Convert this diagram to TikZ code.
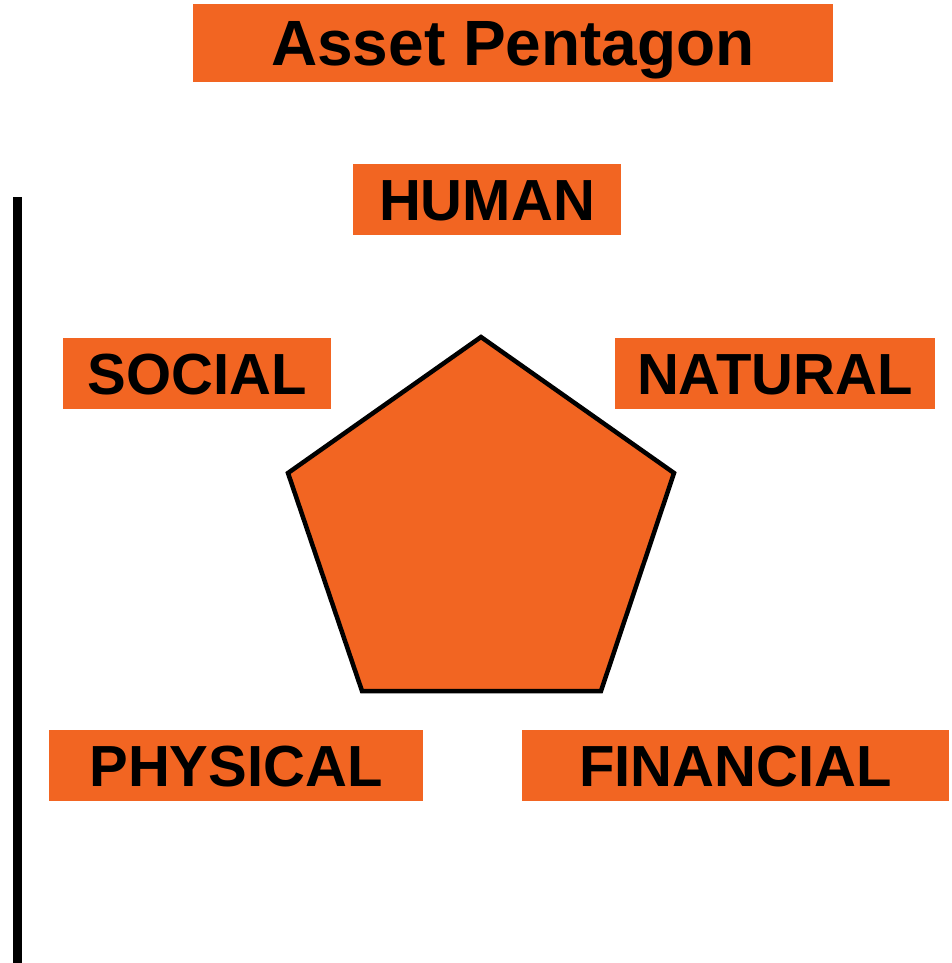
\documentclass[tikz,border=0pt]{standalone}
\usepackage{fontspec}
\setmainfont{Liberation Sans}
\definecolor{org}{RGB}{242,101,34}
\begin{document}
\begin{tikzpicture}[x=1pt,y=-1pt,
 lbl/.style={fill=org, inner sep=0pt, font=\fontsize{58}{61}\selectfont\bfseries, text height=41.5pt, text depth=0pt, minimum height=71pt},
]
\useasboundingbox (0,0) rectangle (952,963);
\node[lbl, minimum width=640pt, minimum height=78pt, font=\fontsize{64}{68}\selectfont\bfseries, text height=46pt] (title) at (513,43) {Asset Pentagon};
\node[lbl, minimum width=268pt] (human) at (487,199.5) {HUMAN};
\node[lbl, minimum width=268pt] (social) at (197,373.5) {SOCIAL};
\node[lbl, minimum width=320pt] (natural) at (775,373.5) {NATURAL};
\node[lbl, minimum width=374pt] (physical) at (236,765.5) {PHYSICAL};
\node[lbl, minimum width=427pt] (financial) at (735.5,765.5) {FINANCIAL};
\coordinate (p1) at (481,337);
\coordinate (p2) at (674,473);
\coordinate (p3) at (601,691);
\coordinate (p4) at (362,691);
\coordinate (p5) at (288,473);
\draw[line width=4.5pt, fill=org, line join=miter] (p1) -- (p2) -- (p3) -- (p4) -- (p5) -- cycle;
\coordinate (l1) at (17,197);
\coordinate (l2) at (17,963);
\draw[line width=9pt] (l1) -- (l2);
\end{tikzpicture}
\end{document}
